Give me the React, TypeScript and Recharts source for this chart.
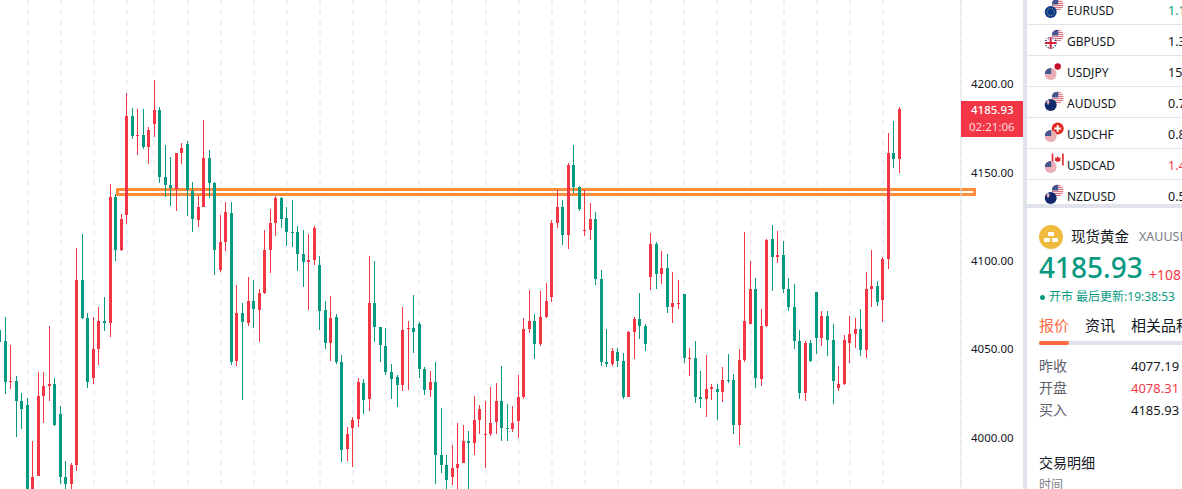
import { Bar, CartesianGrid, ComposedChart, ReferenceArea, XAxis, YAxis } from "recharts";

// candles, oldest first
const opens = [
  4060.9, 4054.6, 4031.4, 4032.0, 4020.7, 4018.4, 3968.4, 3978.2, 4023.5, 4029.2,
  4030.3, 4013.3, 3977.6, 3973.7, 3984.4, 4089.2, 4067.7, 4033.7, 4050.2, 4066.0,
  4064.9, 4136.2, 4106.2, 4126.0, 4182.1, 4170.7, 4171.3, 4164.5, 4177.5, 4185.4,
  4147.5, 4143.0, 4140.7, 4161.1, 4166.2, 4139.6, 4123.2, 4130.6, 4158.3, 4144.1,
  4094.9, 4110.7, 4127.2, 4043.3, 4070.5, 4064.9, 4077.3, 4072.2, 4081.8, 4106.1,
  4121.4, 4135.6, 4124.3, 4116.3, 4116.3, 4103.9, 4099.4, 4100.5, 4097.7, 4072.2,
  4053.5, 4068.2, 4042.8, 3993.5, 4005.3, 4010.4, 4030.8, 4021.8, 4076.1, 4062.5,
  4051.8, 4037.1, 4034.2, 4029.7, 4061.4, 4062.0, 4064.2, 4038.8, 4026.9, 4031.4,
  3990.1, 3984.4, 3977.6, 3982.7, 3985.5, 3998.0, 3996.9, 4009.9, 4001.4, 4002.0,
  4008.8, 4020.6, 4005.4, 4004.8, 4009.3, 4022.9, 4061.4, 4065.9, 4052.9, 4068.2,
  4079.5, 4121.4, 4130.5, 4114.6, 4154.3, 4141.8, 4116.9, 4117.5, 4123.7, 4089.7,
  4042.7, 4041.6, 4048.4, 4043.3, 4022.9, 4059.7, 4067.1, 4063.1, 4090.9, 4109.5,
  4092.6, 4096.0, 4073.9, 4075.6, 4081.2, 4044.4, 4045.0, 4022.9, 4021.8, 4027.4,
  4027.4, 4025.7, 4032.5, 4032.6, 4007.1, 4043.9, 4064.3, 4084.1, 4033.2, 4063.2,
  4112.4, 4102.2, 4103.4, 4084.1, 4073.9, 4054.6, 4025.2, 4053.5, 4082.4, 4056.4,
  4068.8, 4055.2, 4028.1, 4030.3, 4053.5, 4058.6, 4061.5, 4049.6, 4084.1, 4085.8,
  4077.9, 4101.1, 4161.1, 4157.7,
];
const closes = [
  4054.3, 4031.6, 4032.0, 4020.9, 4016.2, 3968.0, 3977.6, 4023.5, 4029.2, 4030.3,
  4007.1, 3977.6, 3973.7, 3984.4, 4089.2, 4067.7, 4031.4, 4050.2, 4066.0, 4064.9,
  4136.2, 4106.2, 4123.8, 4182.1, 4170.7, 4171.3, 4164.5, 4174.1, 4185.4, 4147.5,
  4143.0, 4141.3, 4161.1, 4164.0, 4140.2, 4123.8, 4130.6, 4158.3, 4144.1, 4106.2,
  4110.7, 4127.7, 4042.8, 4070.5, 4065.4, 4077.3, 4072.8, 4081.8, 4106.1, 4121.4,
  4135.6, 4123.7, 4116.3, 4115.8, 4103.9, 4099.4, 4100.5, 4118.6, 4071.6, 4053.5,
  4067.7, 4042.8, 3992.9, 4001.9, 4009.9, 4031.4, 4021.2, 4076.1, 4062.5, 4052.3,
  4037.1, 4033.1, 4029.7, 4060.9, 4062.0, 4059.7, 4038.8, 4026.9, 4031.4, 3990.1,
  3984.4, 3975.9, 3982.7, 3985.0, 3998.0, 3996.9, 4009.9, 4016.1, 4001.9, 4008.2,
  4020.6, 4005.4, 4004.8, 4008.2, 4022.9, 4061.4, 4065.9, 4052.9, 4068.2, 4077.3,
  4121.4, 4130.5, 4114.6, 4154.3, 4141.8, 4129.4, 4117.5, 4123.7, 4089.7, 4042.7,
  4041.6, 4049.0, 4043.3, 4022.9, 4059.7, 4067.1, 4063.1, 4052.9, 4109.5, 4092.6,
  4096.0, 4073.9, 4076.1, 4076.1, 4045.0, 4045.0, 4022.9, 4021.8, 4027.4, 4028.6,
  4025.7, 4032.5, 4032.0, 4007.1, 4043.9, 4066.0, 4084.1, 4033.7, 4063.2, 4111.9,
  4102.2, 4103.4, 4084.1, 4073.9, 4054.6, 4025.2, 4053.5, 4043.3, 4056.4, 4068.8,
  4055.2, 4032.0, 4030.3, 4055.2, 4058.6, 4061.5, 4049.6, 4084.1, 4085.8, 4076.8,
  4101.1, 4161.1, 4157.7, 4185.93,
];
const highs = [
  4064.6, 4068.2, 4052.4, 4034.8, 4025.2, 4022.4, 3998.0, 4037.1, 4037.1, 4063.2,
  4033.7, 4017.9, 3986.7, 3985.6, 4107.3, 4115.3, 4070.5, 4068.2, 4073.9, 4079.6,
  4143.6, 4137.9, 4126.6, 4195.1, 4186.6, 4186.0, 4186.0, 4175.8, 4202.4, 4187.1,
  4165.6, 4158.9, 4161.1, 4166.8, 4167.9, 4144.7, 4136.8, 4179.8, 4162.8, 4144.7,
  4126.0, 4133.4, 4133.4, 4086.4, 4076.2, 4090.9, 4089.2, 4084.1, 4117.5, 4129.4,
  4136.7, 4136.2, 4130.5, 4134.4, 4119.7, 4117.5, 4115.2, 4119.7, 4102.8, 4077.3,
  4080.1, 4069.9, 4046.7, 4005.9, 4011.6, 4033.7, 4033.1, 4102.8, 4099.9, 4062.5,
  4062.0, 4041.6, 4035.4, 4073.9, 4065.9, 4080.7, 4065.4, 4039.9, 4037.6, 4042.8,
  4016.7, 3990.1, 3995.7, 4008.2, 4007.1, 4003.6, 4023.5, 4018.4, 4020.6, 4028.6,
  4030.8, 4040.5, 4018.9, 4017.8, 4035.4, 4067.6, 4083.5, 4069.9, 4082.9, 4087.5,
  4123.1, 4140.1, 4134.5, 4155.4, 4165.6, 4142.4, 4140.1, 4132.8, 4127.7, 4094.8,
  4061.4, 4050.7, 4050.7, 4047.8, 4060.3, 4068.2, 4081.8, 4064.2, 4115.8, 4110.7,
  4105.6, 4103.9, 4093.7, 4089.2, 4081.2, 4050.7, 4054.6, 4037.6, 4046.7, 4030.3,
  4030.3, 4039.9, 4047.3, 4036.0, 4050.1, 4116.4, 4100.0, 4090.3, 4072.8, 4112.4,
  4120.4, 4117.0, 4111.3, 4090.3, 4086.9, 4060.9, 4054.6, 4055.2, 4082.4, 4071.6,
  4071.6, 4064.3, 4040.5, 4058.1, 4068.8, 4067.7, 4072.8, 4093.7, 4106.2, 4088.6,
  4102.2, 4172.5, 4179.2, 4187.2,
];
const lows = [
  4053.3, 4024.8, 4027.7, 4000.5, 4005.0, 3965.0, 3966.0, 3978.2, 4008.2, 4020.7,
  4006.5, 3973.7, 3968.4, 3968.4, 3981.1, 4067.1, 4028.1, 4030.3, 4041.1, 4060.3,
  4056.9, 4100.0, 4105.6, 4120.9, 4169.0, 4160.0, 4163.4, 4154.9, 4170.2, 4144.1,
  4136.2, 4131.1, 4128.3, 4154.9, 4125.4, 4116.4, 4119.2, 4130.6, 4135.7, 4092.0,
  4093.7, 4105.6, 4041.1, 4040.5, 4021.2, 4063.2, 4062.0, 4054.0, 4081.2, 4093.1,
  4114.1, 4118.6, 4108.4, 4107.8, 4094.3, 4085.2, 4072.2, 4097.7, 4060.9, 4050.1,
  4043.3, 4041.6, 3986.1, 3986.7, 3983.3, 4005.9, 4013.3, 4015.0, 4054.0, 4042.8,
  4035.4, 4021.8, 4017.2, 4026.3, 4026.9, 4047.8, 4033.7, 4024.0, 4022.9, 3973.6,
  3979.9, 3968.4, 3973.1, 3968.4, 3985.5, 3968.4, 3990.1, 4001.9, 3982.7, 4000.8,
  4002.0, 3998.0, 3998.0, 4003.1, 3999.7, 4021.8, 4059.1, 4044.4, 4051.8, 4067.6,
  4076.7, 4118.6, 4109.0, 4106.7, 4138.2, 4128.2, 4114.1, 4111.8, 4086.3, 4040.5,
  4039.9, 4040.5, 4039.9, 4021.8, 4022.9, 4044.4, 4055.8, 4049.0, 4083.5, 4084.1,
  4086.9, 4070.5, 4064.8, 4072.7, 4042.2, 4034.8, 4019.5, 4016.7, 4011.6, 4021.2,
  4009.9, 4020.1, 4030.8, 4002.0, 3995.8, 4042.8, 4064.3, 4028.1, 4029.2, 4062.6,
  4083.0, 4098.8, 4081.8, 4071.6, 4050.1, 4021.8, 4020.7, 4042.8, 4047.3, 4051.8,
  4046.2, 4019.0, 4026.4, 4029.8, 4042.2, 4050.7, 4046.2, 4045.0, 4073.9, 4074.5,
  4065.4, 4095.4, 4152.6, 4149.8,
];

const priceTicks = [4000, 4050, 4100, 4150, 4200, 4250];
const gridCandles = [
  5, 11, 17, 23, 28, 34, 40, 46, 52, 58, 64, 70, 76, 82, 88, 94, 100, 106, 112, 118, 124, 130, 136, 142, 148, 154, 160,
];
// the orange box drawn on the chart
const zoneX = [21.31, 176.59];
const zoneY = [4137.6, 4140.4];

const symbols = ["EURUSD", "GBPUSD", "USDJPY", "AUDUSD", "USDCHF", "USDCAD", "NZDUSD"];
const symbolPrices = ["1.1", "1.3", "15", "0.7", "0.8", "1.4", "0.5"];
const quoteLabels = ["昨收", "开盘", "买入"];
const quoteValues = ["4077.19", "4078.31", "4185.93"];

const candles = opens.map((open, index) => ({
  index,
  open,
  close: closes[index],
  high: highs[index],
  low: lows[index],
}));

const RED = "#f23645";
const GREEN = "#089981";
const LINE = "#e0e3eb";
const FONT = '"Noto Sans", "Noto Sans CJK SC", sans-serif';

const Candle = (props: any) => {
  const { x, y, width, height, payload } = props;
  const { open, close, high, low } = payload;
  const color = close >= open ? RED : GREEN;
  const perUnit = Math.abs(height) / (high - low);
  const top = Math.round(y + (high - Math.max(open, close)) * perUnit);
  const bottom = Math.round(y + (high - Math.min(open, close)) * perUnit);
  const wickX = Math.floor(x + width / 2);
  return (
    <g shapeRendering="crispEdges">
      <rect x={wickX} y={Math.round(y)} width={1} height={Math.round(Math.abs(height))} fill={color} />
      <rect x={wickX - 1} y={top} width={3} height={Math.max(bottom - top, 1)} fill={color} />
    </g>
  );
};

const GridLine = (props: any) => {
  const x = Math.round(props.x1);
  return <line key={props.key} x1={x} x2={x} y1={props.y1} y2={props.y2} stroke="#f0f1f4" strokeWidth={2} strokeDasharray="5 5" />;
};

const UsFlag = ({ cx, cy, id }: { cx: number; cy: number; id: string }) => (
  <g>
    <clipPath id={id}>
      <circle cx={cx} cy={cy} r={6} />
    </clipPath>
    <g clipPath={`url(#${id})`}>
      <rect x={cx - 6} y={cy - 6} width={12} height={12} fill="#f8e4e6" />
      {[-5, -3, -1, 1, 3, 5].map((d) => (
        <rect key={d} x={cx - 6} y={cy + d - 0.5} width={12} height={1} fill="#dd7886" />
      ))}
      <rect x={cx - 6} y={cy - 6} width={6.5} height={6} fill="#44568f" />
    </g>
  </g>
);

const OtherFlag = ({ name, cx, cy, id }: { name: string; cx: number; cy: number; id: string }) => {
  if (name === "JP")
    return (
      <g>
        <circle cx={cx} cy={cy} r={6} fill="#ffffff" />
        <circle cx={cx} cy={cy} r={3.2} fill="#c8102e" />
      </g>
    );
  if (name === "CH")
    return (
      <g>
        <circle cx={cx} cy={cy} r={6} fill="#e2281f" />
        <rect x={cx - 3.4} y={cy - 1} width={6.8} height={2} fill="#fff" />
        <rect x={cx - 1} y={cy - 3.4} width={2} height={6.8} fill="#fff" />
      </g>
    );
  if (name === "CA")
    return (
      <g>
        <circle cx={cx} cy={cy} r={6} fill="#ffffff" />
        <path d={`M${cx} ${cy - 3.6}l1.2 2 1.8-.6-.6 2.2 1 .6-2.4 1.6h-2l-2.4-1.6 1-.6-.6-2.2 1.8.6z`} fill="#e0242f" />
        <rect x={cx - 6} y={cy - 6} width={1.6} height={12} fill="#e0242f" />
        <rect x={cx + 4.4} y={cy - 6} width={1.6} height={12} fill="#e0242f" />
      </g>
    );
  if (name === "EU")
    return (
      <g>
        <circle cx={cx} cy={cy} r={6} fill="#0b3a8f" />
        <circle cx={cx} cy={cy} r={3.6} fill="none" stroke="#c9b23a" strokeWidth={1} strokeDasharray="1 1" />
      </g>
    );
  if (name === "GB")
    return (
      <g>
        <clipPath id={id}>
          <circle cx={cx} cy={cy} r={6} />
        </clipPath>
        <g clipPath={`url(#${id})`}>
          <rect x={cx - 6} y={cy - 6} width={12} height={12} fill="#1f3a7d" />
          <path d={`M${cx - 6} ${cy - 6}L${cx + 6} ${cy + 6}M${cx + 6} ${cy - 6}L${cx - 6} ${cy + 6}`} stroke="#fff" strokeWidth={2} />
          <rect x={cx - 6} y={cy - 2} width={12} height={4} fill="#fff" />
          <rect x={cx - 2} y={cy - 6} width={4} height={12} fill="#fff" />
          <rect x={cx - 6} y={cy - 1} width={12} height={2} fill="#d4213d" />
          <rect x={cx - 1} y={cy - 6} width={2} height={12} fill="#d4213d" />
        </g>
      </g>
    );
  // AU and NZ are both navy with a small red mark at this size
  return (
    <g>
      <circle cx={cx} cy={cy} r={6} fill="#12296b" />
      <rect x={cx - 5} y={cy - 3.5} width={4.5} height={1.5} fill="#c94a5c" />
      <rect x={cx - 3.4} y={cy - 5} width={1.5} height={4.5} fill="#d9d9e6" />
    </g>
  );
};

// which flag sits low-left and which sits high-right in each row
const flagPairs = [
  ["EU", "US"],
  ["GB", "US"],
  ["US", "JP"],
  ["AU", "US"],
  ["US", "CH"],
  ["US", "CA"],
  ["NZ", "US"],
];

const PairIcon = ({ row }: { row: number }) => {
  const cy = 10 + row * 31;
  const [low, high] = flagPairs[row];
  const draw = (name: string, cx: number, y: number, key: string) =>
    name === "US" ? (
      <UsFlag key={key} cx={cx} cy={y} id={`us-${row}-${key}`} />
    ) : (
      <OtherFlag key={key} name={name} cx={cx} cy={y} id={`fl-${row}-${key}`} />
    );
  return (
    <g>
      {draw(high, 1057.7, cy - 5.5, "hi")}
      {draw(low, 1050.7, cy + 2, "lo")}
    </g>
  );
};

const Txt = ({ x, y, size = 12, color = "#131722", weight = 400, spacing = 0, children }: any) => (
  <div
    style={{
      position: "absolute",
      left: x,
      top: y - 15,
      height: 30,
      lineHeight: "30px",
      fontSize: size,
      color,
      fontWeight: weight,
      letterSpacing: spacing,
      whiteSpace: "nowrap",
    }}
  >
    {children}
  </div>
);

export default function App() {
  return (
    <div
      style={{
        position: "relative",
        width: 1182,
        height: 489,
        overflow: "hidden",
        background: "#fff",
        fontFamily: FONT,
      }}
    >
      <style>{"body{margin:0}"}</style>

      <div style={{ position: "absolute", left: -10, top: -40 }}>
        <ComposedChart width={1033} height={569} data={candles} margin={{ top: 0, right: 0, bottom: 0, left: 0 }}>
          <XAxis dataKey="index" type="number" domain={[-1.795, 174.14]} ticks={gridCandles} interval={0} allowDataOverflow hide />
          <YAxis
            orientation="right"
            width={62}
            domain={[3948.2, 4270.4]}
            allowDataOverflow
            ticks={priceTicks}
            interval={0}
            tickFormatter={(v: number) => v.toFixed(2)}
            tickLine={false}
            tickMargin={4}
            axisLine={{ stroke: LINE }}
            tick={{ fontSize: 11.5, fill: "#131722", fontFamily: FONT, textAnchor: "start" }}
          />
          <CartesianGrid horizontal={false} vertical={GridLine} />
          <Bar dataKey={(d: any) => [d.low, d.high]} barSize={3} shape={Candle} isAnimationActive={false} />
          <ReferenceArea
            x1={zoneX[0]}
            x2={zoneX[1]}
            y1={zoneY[0]}
            y2={zoneY[1]}
            ifOverflow="visible"
            fill="none"
            stroke="#ff8c38"
            strokeWidth={3}
          />
        </ComposedChart>
      </div>

      {/* last price tag on the axis */}
      <div style={{ position: "absolute", left: 961, top: 101, width: 62, height: 36, background: RED }} />
      <div style={{ position: "absolute", left: 961, top: 0, width: 62, textAlign: "center" }}>
        <Txt x={10} y={110} size={11.5} color="#fff" weight={500}>
          4185.93
        </Txt>
        <Txt x={8} y={127} size={11.5} color="#ffd9dc">
          02:21:06
        </Txt>
      </div>

      {/* right hand panel */}
      <div style={{ position: "absolute", left: 1023, top: 0, width: 4, height: 489, background: LINE }} />
      {[24, 55, 86, 117, 148, 179].map((y) => (
        <div key={y} style={{ position: "absolute", left: 1027, top: y, width: 155, height: 1, background: LINE }} />
      ))}
      <div style={{ position: "absolute", left: 1027, top: 204, width: 155, height: 4, background: LINE }} />
      <div style={{ position: "absolute", left: 1027, top: 0, width: 155, height: 204, overflow: "hidden" }}>
        <svg width={155} height={204} viewBox="1027 0 155 204" style={{ position: "absolute", left: 0, top: 0 }}>
          {symbols.map((s, i) => (
            <PairIcon key={s} row={i} />
          ))}
        </svg>
        {symbols.map((s, i) => (
          <Txt key={s} x={40} y={11 + i * 31} size={12}>
            {s}
          </Txt>
        ))}
        {symbolPrices.map((p, i) => (
          <Txt key={i} x={141} y={11 + i * 31} size={12.5} color={i === 0 ? GREEN : i === 5 ? RED : "#131722"}>
            {p}
          </Txt>
        ))}
      </div>

      <svg width={24} height={24} style={{ position: "absolute", left: 1039, top: 225 }}>
        <circle cx={12} cy={12} r={12} fill="#efbb3f" />
        <rect x={9} y={7} width={6} height={4} rx={1} fill="#fff" />
        <rect x={5} y={13} width={6} height={4} rx={1} fill="#fff" />
        <rect x={13} y={13} width={6} height={4} rx={1} fill="#fff" />
      </svg>
      <Txt x={1071} y={236} size={14.5}>
        现货黄金
      </Txt>
      <Txt x={1139} y={237} size={12.5} color="#787b86">
        XAUUSD
      </Txt>
      <Txt x={1039} y={267} size={28} color={GREEN} weight={500}>
        4185.93
      </Txt>
      <Txt x={1149} y={275} size={14} color={RED}>
        +108.62
      </Txt>
      <div style={{ position: "absolute", left: 1040, top: 295, width: 5, height: 5, borderRadius: 3, background: GREEN }} />
      <Txt x={1049} y={297} size={12} color={GREEN}>
        开市 最后更新:19:38:53
      </Txt>
      <Txt x={1039} y={325} size={15} color="#ff6b3d">
        报价
      </Txt>
      <Txt x={1085} y={325} size={15}>
        资讯
      </Txt>
      <Txt x={1131} y={325} size={15}>
        相关品种
      </Txt>
      <div style={{ position: "absolute", left: 1039, top: 341, width: 143, height: 4, background: LINE }} />
      <div style={{ position: "absolute", left: 1039, top: 341, width: 30, height: 4, borderRadius: 2, background: "#ff6b3d" }} />
      {quoteLabels.map((l, i) => (
        <Txt key={l} x={1039} y={366 + i * 22} size={14} color="#5d606b">
          {l}
        </Txt>
      ))}
      {quoteValues.map((v, i) => (
        <Txt key={i} x={1131} y={366 + i * 22} size={13} color={i === 1 ? RED : "#131722"}>
          {v}
        </Txt>
      ))}
      <Txt x={1039} y={463} size={14}>
        交易明细
      </Txt>
      <Txt x={1039} y={485} size={12} color="#787b86">
        时间
      </Txt>
    </div>
  );
}
